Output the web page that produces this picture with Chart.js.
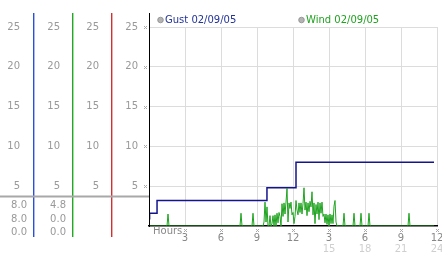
<!DOCTYPE html>
<html>
<head>
<meta charset="utf-8">
<script src="https://cdn.jsdelivr.net/npm/chart.js@4"></script>
<style>
  html, body { margin: 0; padding: 0; background: #fff; }
</style>
</head>
<body>
<canvas id="chart" width="442" height="253"></canvas>
<script>
// data
const seriesNames = ["Gust 02/09/05", "Wind 02/09/05"];
const gustHours = [0, 0.05, 0.67, 9.83, 12.25, 23.75];
const gustSpeeds = [0.9, 1.6, 3.2, 4.8, 8.0, 8.0];
const windMinutes = [
  0, 90, 95, 100, 455, 460, 465, 515, 520, 525,
  570, 575, 580, 585, 590, 595, 600, 605, 610, 615, 620, 625, 630, 635, 640, 645,
  650, 655, 660, 665, 670, 675, 680, 685, 690, 695, 700, 705, 710, 715, 720, 725,
  730, 735, 740, 745, 750, 755, 760, 765, 770, 775, 780, 785, 790, 795, 800, 805,
  810, 815, 820, 825, 830, 835, 840, 845, 850, 855, 860, 865, 870, 875, 880, 885,
  890, 895, 900, 905, 910, 915, 920, 925, 930, 935, 940,
  970, 975, 980, 1020, 1025, 1030, 1055, 1060, 1065, 1095, 1100, 1105,
  1295, 1300, 1305, 1425
];
const windSpeeds = [
  0, 0, 1.5, 0, 0, 1.6, 0, 0, 1.6, 0,
  0, 0.5, 3.0, 0.5, 2.4, 0, 0, 1.3, 0, 0.3, 1.3, 0, 1.4, 0, 1.6, 0.4,
  1.7, 1.2, 0, 2.8, 1.2, 2.9, 1.5, 3.0, 4.7, 0.5, 2.9, 2.2, 3.0, 1.4, 1.7, 0.3,
  1.2, 3.2, 2.0, 1.4, 2.9, 1.7, 2.9, 1.5, 2.8, 4.8, 2.0, 3.0, 1.3, 2.9, 1.8, 3.1,
  2.4, 4.3, 1.4, 2.9, 0.3, 2.7, 1.5, 3.0, 0.8, 2.9, 1.6, 3.0, 1.2, 1.5, 0.4, 1.5,
  0.2, 1.4, 0, 1.5, 0.3, 1.4, 0.3, 2.5, 3.2, 0.5, 0,
  0, 1.6, 0, 0, 1.6, 0, 0, 1.6, 0, 0, 1.6, 0,
  0, 1.6, 0, 0
];
const hourLabels = ["", "3", "6", "9", "12", "3", "6", "9", "12"];
const hourLabels24 = ["", "", "", "", "", "15", "18", "21", "24"];
const gustStats = ["8.0", "8.0", "0.0"];
const windStats = ["4.8", "0.0", "0.0"];

const FONT = { family: "DejaVu Sans", size: 10 };
const GUST = "#14148c";
const WIND = "#1fa31f";
const BLUE = "#2a50d8";
const GREEN = "#22a822";
const RED = "#d03030";

function colAxis(color, weight, width, pad) {
  return {
    type: "linear", position: "left", min: 0, max: 25, weight: weight,
    grid: { display: weight === 0, drawTicks: false,
      color: (c) => (c.tick && c.tick.value === 0 ? "rgba(0,0,0,0)" : "#dcdcdc") },
    border: { display: weight === 0, color: color, width: 1 },
    ticks: { stepSize: 5, padding: pad, color: "#999", font: FONT,
      callback: (v) => (v === 0 ? "" : v) },
    afterFit: (s) => { s.width = width; s.paddingTop = 0; s.paddingBottom = 0; }
  };
}

function mark(ctx, x, y) {
  ctx.fillStyle = "#aaa";
  [[-1, -1], [1, -1], [0, 0], [-1, 1], [1, 1]].forEach(function (p) {
    ctx.fillRect(Math.round(x) + p[0], Math.round(y) + p[1], 1, 1);
  });
}

const panel = {
  id: "panel",
  afterDraw(chart) {
    const ctx = chart.ctx;
    const s = chart.scales;
    const top = 13, low = 237;
    ctx.save();
    // column lines, extended above and below the plot
    [["yGust", BLUE], ["yWind", GREEN], ["yRed", RED]].forEach(function (c) {
      const x = Math.round(s[c[0]].right);
      ctx.fillStyle = c[1];
      ctx.fillRect(x, top, 1.4, low - top);
    });
    const yx = Math.round(s.y.right) + 0.5;
    ctx.strokeStyle = "#000"; ctx.lineWidth = 1;
    ctx.beginPath(); ctx.moveTo(yx, top); ctx.lineTo(yx, chart.chartArea.bottom); ctx.stroke();
    // separator
    ctx.fillStyle = "#a8a8a8";
    ctx.fillRect(0, 195.5, s.y.right, 2);
    // readouts
    ctx.font = "10px 'DejaVu Sans'";
    ctx.fillStyle = "#999"; ctx.textAlign = "right"; ctx.textBaseline = "middle";
    [205, 219, 232].forEach(function (yy, i) {
      ctx.fillText(gustStats[i], s.yGust.right - 6, yy);
      ctx.fillText(windStats[i], s.yWind.right - 6, yy);
    });
    // tick marks
    s.y.ticks.forEach(function (t) {
      if (t.value > 0) mark(ctx, s.y.right - 4, s.y.getPixelForValue(t.value));
    });
    s.x.ticks.forEach(function (t) {
      if (t.value > 0) mark(ctx, s.x.getPixelForValue(t.value), 230);
    });
    // axis caption
    ctx.textAlign = "left"; ctx.fillStyle = "#888";
    ctx.fillText("Hours", 153, 231);
    // legend
    const legendX = [160.5, 301.5];
    const legendColor = ["#22339a", WIND];
    seriesNames.forEach(function (name, i) {
      ctx.beginPath();
      ctx.arc(legendX[i], 20, 2.8, 0, Math.PI * 2);
      ctx.fillStyle = "#b4b4b4"; ctx.fill();
      ctx.strokeStyle = "#8a8a8a"; ctx.lineWidth = 0.8; ctx.stroke();
      ctx.fillStyle = legendColor[i]; ctx.textAlign = "left";
      ctx.fillText(name, legendX[i] + 4.5, 20.5);
    });
    ctx.restore();
  }
};

new Chart(document.getElementById("chart"), {
  type: "line",
  data: {
    datasets: [
      {
        label: seriesNames[0],
        data: gustHours.map((h, i) => ({ x: h, y: gustSpeeds[i] })),
        borderColor: GUST, borderWidth: 1.5, stepped: "before",
        pointRadius: 0, yAxisID: "y"
      },
      {
        label: seriesNames[1],
        data: windMinutes.map((m, i) => ({ x: m / 60, y: windSpeeds[i] })),
        borderColor: WIND, borderWidth: 1, tension: 0,
        pointRadius: 0, yAxisID: "y"
      }
    ]
  },
  options: {
    responsive: false,
    animation: false,
    layout: { padding: { top: 27, right: 5, left: 0, bottom: 0 } },
    plugins: { legend: { display: false }, tooltip: { enabled: false } },
    scales: {
      x: {
        type: "linear", position: "bottom", min: 0, max: 24, weight: 0,
        grid: { drawTicks: false,
          color: (c) => (c.tick && c.tick.value === 0 ? "rgba(0,0,0,0)" : "#dcdcdc") },
        border: { color: "#000", width: 1.5 },
        ticks: { stepSize: 3, autoSkip: false, maxRotation: 0, padding: 6, color: "#888", font: FONT,
          callback: (v) => hourLabels[v / 3] },
        afterFit: (s) => { s.height = 17; s.paddingLeft = 0; s.paddingRight = 0; }
      },
      x2: {
        type: "linear", position: "bottom", min: 0, max: 24, weight: 1,
        grid: { display: false, drawTicks: false },
        border: { display: false },
        ticks: { stepSize: 3, autoSkip: false, maxRotation: 0, padding: 0, color: "#cfcfcf", font: FONT,
          callback: (v) => hourLabels24[v / 3] },
        afterFit: (s) => { s.height = 10; s.paddingLeft = 0; s.paddingRight = 0; }
      },
      y: colAxis("#000", 0, 38, 11),
      yRed: colAxis(RED, 1, 39, 12),
      yWind: colAxis(GREEN, 2, 39, 12),
      yGust: colAxis(BLUE, 3, 33, 13)
    }
  },
  plugins: [panel]
});
</script>
</body>
</html>
